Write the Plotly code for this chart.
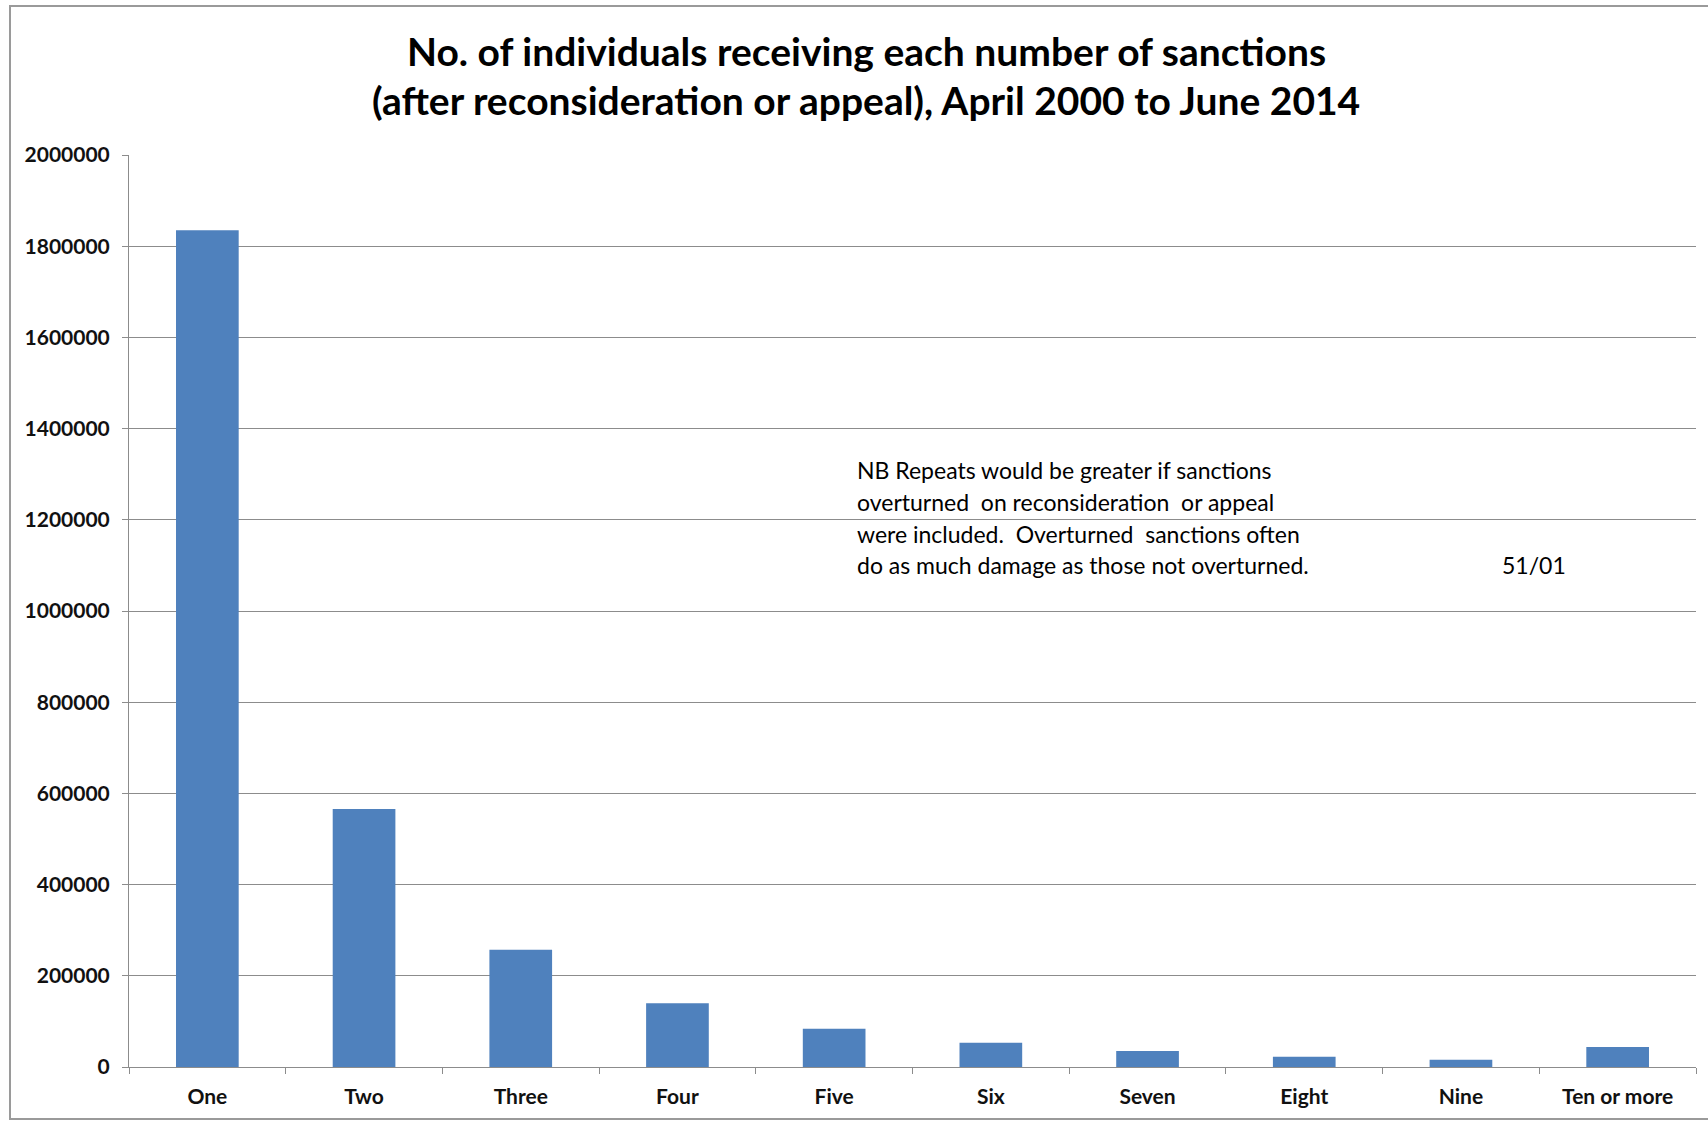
import plotly.graph_objects as go

categories = ["One", "Two", "Three", "Four", "Five", "Six", "Seven", "Eight", "Nine", "Ten or more"]
individuals = [1835000, 566000, 257000, 140000, 84000, 53000, 35000, 22500, 16000, 44000]
y_ticks = [0, 200000, 400000, 600000, 800000, 1000000, 1200000, 1400000, 1600000, 1800000, 2000000]
title_lines = ["No. of individuals receiving each number of sanctions",
               "(after reconsideration or appeal), April 2000 to June 2014"]
note_lines = ["NB Repeats would be greater if sanctions",
              "overturned  on reconsideration  or appeal",
              "were included.  Overturned  sanctions often",
              "do as much damage as those not overturned."]
ref_code = "51/01"

W, H = 1708, 1121
FONT = "Lato"
ML, MR, MT, MB = 129, 12, 155, 54
PW, PH = W - ML - MR, H - MT - MB


def px(x):
    return (x - ML) / PW


def py(y):
    return (H - MB - y) / PH


fig = go.Figure()
fig.add_trace(go.Bar(
    x=categories, y=individuals,
    marker=dict(color="#4F81BD", line=dict(width=0)),
    width=0.4,
))

fig.update_layout(
    width=W, height=H,
    margin=dict(l=ML, r=MR, t=MT, b=MB),
    paper_bgcolor="white", plot_bgcolor="white",
    showlegend=False,
    font=dict(family=FONT, color="black"),
)
fig.update_yaxes(
    range=[0, 2000000], tickvals=y_ticks, ticktext=[str(v) for v in y_ticks],
    showgrid=True, gridcolor="#8c8c8c", gridwidth=1,
    showline=True, linecolor="#8c8c8c", linewidth=1,
    ticks="outside", ticklen=6, tickcolor="#8c8c8c",
    tickfont=dict(family=FONT, size=21, color="#111", weight="bold"),
    ticklabelstandoff=8, zeroline=False,
)
fig.update_xaxes(
    showline=True, linecolor="#8c8c8c", linewidth=1,
    ticks="outside", ticklen=6, tickcolor="#8c8c8c", tickson="boundaries",
    tickfont=dict(family=FONT, size=21, color="#111", weight="bold"),
    ticklabelstandoff=11,
)

for txt, yc in zip(title_lines, [51, 100]):
    fig.add_annotation(
        text=txt, xref="paper", yref="paper",
        x=px(866), y=py(yc),
        xanchor="center", yanchor="middle", showarrow=False,
        font=dict(family=FONT, size=39, color="black", weight="bold"),
    )

for txt, yc in zip(note_lines, [470, 502, 534, 565]):
    fig.add_annotation(
        text=txt, xref="paper", yref="paper",
        x=px(855), y=py(yc),
        xanchor="left", yanchor="middle", showarrow=False,
        font=dict(family=FONT, size=23, color="black"),
    )
fig.add_annotation(
    text=ref_code, xref="paper", yref="paper",
    x=px(1534), y=py(565),
    xanchor="center", yanchor="middle", showarrow=False,
    font=dict(family=FONT, size=23, color="black"),
)

# outer chart frame (right edge lies beyond the picture)
fig.add_shape(type="rect", xref="paper", yref="paper",
              x0=px(10), x1=px(W + 200),
              y0=py(1119), y1=py(6),
              line=dict(color="#9a9a9a", width=2), layer="below")

fig.write_html("out.html")
